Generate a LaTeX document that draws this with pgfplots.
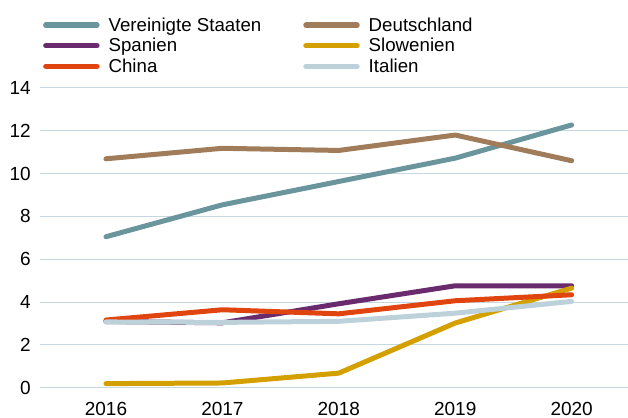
\documentclass[border=0pt]{standalone}
\usepackage{pgfplots}
\pgfplotsset{compat=1.18}
\usepackage{fontspec}
\setmainfont{Liberation Sans}
\definecolor{cus}{HTML}{6A959D}
\definecolor{cde}{HTML}{A07C5A}
\definecolor{ces}{HTML}{6A2A6E}
\definecolor{csi}{HTML}{D4A000}
\definecolor{ccn}{HTML}{E0450F}
\definecolor{cit}{HTML}{BCD1DA}
\definecolor{cgrid}{HTML}{C5D8E0}
\begin{document}
\begin{tikzpicture}
\begin{axis}[
  scale only axis, width=588pt, height=300pt,
  xmin=2015.433, xmax=2020.48, ymin=0, ymax=14,
  axis line style={draw=none},
  xtick={2016,2017,2018,2019,2020},
  xticklabels={2016,2017,2018,2019,2020},
  ytick={0,2,...,14},
  major tick length=0pt,
  ymajorgrids, grid style={cgrid, line width=1pt},
  tick label style={font=\fontsize{19}{22}\selectfont},
  /pgf/number format/assume math mode=true,
  xticklabel style={inner sep=0pt, anchor=north, yshift=-14pt},
  yticklabel style={inner sep=0pt, anchor=east, xshift=-9pt},
  clip=false,
  legend columns=2,
  legend style={draw=none, fill=none, at={(rel axis cs:0,1.2483)}, anchor=north west,
    font=\fontsize{18.7}{21}\selectfont, row sep=1.5pt,
    /tikz/every odd column/.append style={column sep=7pt},
    /tikz/every even column/.append style={column sep=40pt}},
  legend cell align=left,
  legend image code/.code={\draw[#1, line width=5.5pt, line cap=round] (0pt,0pt) -- (51pt,0pt);},
  every axis plot/.append style={line width=5pt, line join=round, line cap=round},
]
\addplot[cus] coordinates {(2016,7.05) (2017,8.54) (2018,9.63) (2019,10.72) (2020,12.27)};
\addlegendentry{Vereinigte Staaten}
\addplot[cde] coordinates {(2016,10.69) (2017,11.18) (2018,11.08) (2019,11.8) (2020,10.6)};
\addlegendentry{Deutschland}
\addplot[ces] coordinates {(2016,3.09) (2017,3.03) (2018,3.92) (2019,4.76) (2020,4.76)};
\addlegendentry{Spanien}
\addplot[csi] coordinates {(2016,0.19) (2017,0.22) (2018,0.68) (2019,3.02) (2020,4.65)};
\addlegendentry{Slowenien}
\addplot[ccn] coordinates {(2016,3.16) (2017,3.64) (2018,3.45) (2019,4.06) (2020,4.34)};
\addlegendentry{China}
\addplot[cit] coordinates {(2016,3.07) (2017,3.05) (2018,3.1) (2019,3.48) (2020,4.03)};
\addlegendentry{Italien}
\path (rel axis cs:-0.068,-0.1) rectangle (rel axis cs:1.0,1.2933);
\end{axis}
\end{tikzpicture}
\end{document}
